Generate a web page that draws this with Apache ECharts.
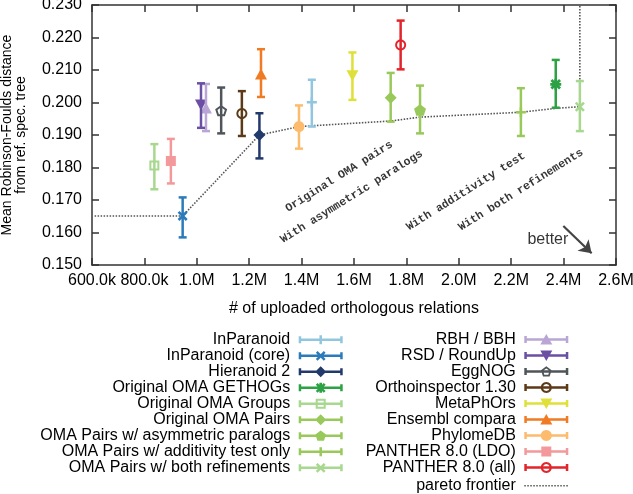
<!DOCTYPE html>
<html><head><meta charset="utf-8">
<script src="https://cdn.jsdelivr.net/npm/echarts@6/dist/echarts.min.js"></script>
<style>html,body{margin:0;padding:0;background:#fff}#c{width:633px;height:494px}</style>
</head><body><div id="c"></div>
<script>
// ---------- data ----------
const methods = ['InParanoid', 'InParanoid (core)', 'Hieranoid 2', 'Original OMA GETHOGs', 'Original OMA Groups',
  'Original OMA Pairs', 'OMA Pairs w/ asymmetric paralogs', 'OMA Pairs w/ additivity test only', 'OMA Pairs w/ both refinements',
  'RBH / BBH', 'RSD / RoundUp', 'EggNOG', 'Orthoinspector 1.30', 'MetaPhOrs', 'Ensembl compara', 'PhylomeDB',
  'PANTHER 8.0 (LDO)', 'PANTHER 8.0 (all)'];
const relations = [1439000, 946000, 1239000, 2370000, 838000, 1740000, 1852000, 2237000, 2462000,
  1035000, 1016000, 1093000, 1172000, 1594000, 1245000, 1390000, 901000, 1778000];
const meanRF = [0.2001, 0.1651, 0.1900, 0.2056, 0.1806, 0.2015, 0.1977, 0.1970, 0.1987,
  0.1983, 0.1992, 0.1975, 0.1966, 0.2082, 0.2088, 0.1926, 0.1820, 0.2177];
const lowerRF = [0.1926, 0.1585, 0.1828, 0.1984, 0.1733, 0.1941, 0.1905, 0.1897, 0.1912,
  0.1912, 0.1922, 0.1905, 0.1897, 0.2008, 0.2017, 0.1858, 0.1751, 0.2102];
const upperRF = [0.2070, 0.1708, 0.1967, 0.2131, 0.1872, 0.2091, 0.2052, 0.2044, 0.2066,
  0.2057, 0.2059, 0.2046, 0.2035, 0.2154, 0.2164, 0.1991, 0.1888, 0.2252];
const paretoX = [610000, 946000, 1239000, 1286000, 1368000, 1390000, 1740000, 1852000, 2237000, 2370000, 2462000, 2462000];
const paretoY = [0.1651, 0.1651, 0.1900, 0.1908, 0.1922, 0.1926, 0.1943, 0.1955, 0.1970, 0.1982, 0.1987, 0.230];
const xTickLabels = ['600.0k', '800.0k', '1.0M', '1.2M', '1.4M', '1.6M', '1.8M', '2.0M', '2.2M', '2.4M', '2.6M'];
const yTickLabels = ['0.150', '0.160', '0.170', '0.180', '0.190', '0.200', '0.210', '0.220', '0.230'];
const noteTexts = ['Original OMA pairs', 'With asymmetric paralogs', 'With additivity test', 'With both refinements'];
const noteX = [1543000, 1591000, 2027000, 2237000];
const noteY = [0.1772, 0.1710, 0.1726, 0.1731];
const betterPos = [2340000, 0.1577];
const arrowFrom = [2399000, 0.1620];
const arrowTo = [2507000, 0.1536];

// ---------- styles ----------
const colors = ['#92c5de', '#2b7bba', '#223a6b', '#2ca244', '#a8d890', '#99c95a', '#99c95a', '#99c95a', '#a8d890',
  '#b9a6d5', '#6a4fa3', '#4f5559', '#5c3a17', '#dfe03a', '#f07b22', '#fdbb6e', '#f4999b', '#e2242b'];
const markers = ['plus', 'x', 'diamond', 'star', 'openSquare', 'diamond', 'pentagon', 'plus', 'x',
  'triUp', 'triDown', 'openPentagon', 'openCircle', 'triDown', 'triUp', 'circle', 'square', 'openCircle'];
const FONT = "'Liberation Sans', Arial, Helvetica, sans-serif";

function f(n) { return (+n).toFixed(2); }
function poly(pts) { return 'M' + pts.map(p => f(p[0]) + ',' + f(p[1])).join('L') + 'Z'; }
function rectPts(x, y, w, h) { return [[x, y], [x + w, y], [x + w, y + h], [x, y + h]]; }
function rect(x, y, w, h, rev) { const p = rectPts(x, y, w, h); return poly(rev ? p.reverse() : p); }
function regPts(cx, cy, r, n, start) {
  const p = [];
  for (let i = 0; i < n; i++) { const a = (start + i * 360 / n) * Math.PI / 180; p.push([cx + r * Math.cos(a), cy + r * Math.sin(a)]); }
  return p;
}
function reg(cx, cy, r, n, start, rev) { const p = regPts(cx, cy, r, n, start); return poly(rev ? p.reverse() : p); }
function xShape(cx, cy, a, t) {
  const d = t / Math.SQRT2;
  return poly([[cx - a + d, cy - a - d], [cx + a + d, cy + a - d], [cx + a - d, cy + a + d], [cx - a - d, cy - a + d]]) +
    poly([[cx + a + d, cy - a + d], [cx - a + d, cy + a + d], [cx - a - d, cy + a - d], [cx + a - d, cy - a - d]]);
}
function plotSymbol(kind) {
  switch (kind) {
    case 'plus': return { symbol: 'path://' + rect(0, 3.75, 10, 2.5) + rect(3.75, 0, 2.5, 10), size: 10 };
    case 'x': return { symbol: 'path://' + xShape(5, 5, 4.1, 1.3), size: 10 };
    case 'star': return { symbol: 'path://' + xShape(5.5, 5.5, 4.3, 1.4) + rect(4.15, 0, 2.7, 11) + rect(0, 4.15, 11, 2.7), size: 11 };
    case 'openSquare': return { symbol: 'path://' + rect(0, 0, 10, 10) + rect(2, 2, 6, 6, true), size: 10 };
    case 'pentagon': return { symbol: 'path://' + reg(6, 6, 6, 5, -90), size: 12 };
    case 'openPentagon': return { symbol: 'path://' + reg(6, 6, 6, 5, -90) + reg(6, 6, 3.7, 5, -90, true), size: 12 };
    case 'openCircle': return { symbol: 'path://' + reg(6, 6, 6, 28, 0) + reg(6, 6, 3.9, 28, 0, true), size: 11 };
    case 'circle': return { symbol: 'circle', size: 11 };
    case 'square': return { symbol: 'rect', size: 10 };
    case 'diamond': return { symbol: 'diamond', size: 12 };
    case 'triUp': return { symbol: 'triangle', size: [12, 11] };
    case 'triDown': return { symbol: 'triangle', size: [12, 11], rotate: 180 };
  }
}
function legendIcon(kind) {
  let p = 'M-3.5,0M44,12' + rect(0, 2.5, 2.5, 7) + rect(41.5, 2.5, 2.5, 7) + rect(0, 4.75, 44, 2.5);
  switch (kind) {
    case 'plus': p += rect(20.75, 1.5, 2.5, 9); break;
    case 'x': p += xShape(22, 6, 4, 1.25); break;
    case 'star': p += xShape(22, 6, 4, 1.3) + rect(20.7, 1, 2.6, 10); break;
    case 'diamond': p += poly([[22, 0.5], [27.5, 6], [22, 11.5], [16.5, 6]]); break;
    case 'openSquare': p += rect(17, 1, 10, 10) + rect(19, 3, 6, 6, true); break;
    case 'pentagon': p += reg(22, 6.4, 5.6, 5, -90); break;
    case 'openPentagon': p += reg(22, 6.4, 5.6, 5, -90) + reg(22, 6.4, 3.4, 5, -90, true); break;
    case 'triUp': p += poly([[22, 0.5], [28, 11], [16, 11]]); break;
    case 'triDown': p += poly([[16, 1], [28, 1], [22, 11.5]]); break;
    case 'openCircle': p += reg(22, 6, 5.5, 28, 0) + reg(22, 6, 3.4, 28, 0, true); break;
    case 'circle': p += reg(22, 6, 5.5, 28, 0); break;
    case 'square': p += rect(17, 1, 10, 10); break;
  }
  return 'path://' + p;
}
function dotsIcon() {
  let p = 'M-3.5,0M44,12';
  for (let x = 0; x <= 42; x += 3) p += rect(x, 5.25, 1.5, 1.5);
  return 'path://' + p;
}

function errorBarRender(params, api) {
  const x = api.value(0);
  const lo = api.coord([x, api.value(2)]);
  const hi = api.coord([x, api.value(3)]);
  const c = api.visual('color');
  const s = { stroke: c, lineWidth: 2.5, fill: null };
  return { type: 'group', children: [
    { type: 'line', shape: { x1: lo[0], y1: lo[1], x2: hi[0], y2: hi[1] }, style: s },
    { type: 'line', shape: { x1: lo[0] - 4, y1: lo[1], x2: lo[0] + 4, y2: lo[1] }, style: s },
    { type: 'line', shape: { x1: hi[0] - 4, y1: hi[1], x2: hi[0] + 4, y2: hi[1] }, style: s }
  ] };
}

const series = [];
series.push({
  type: 'line', name: 'pareto frontier', z: 1, silent: true, symbol: 'none',
  data: paretoX.map((x, i) => [x, paretoY[i]]),
  lineStyle: { color: '#555', width: 1.6, type: [1.5, 1.5] },
  markLine: {
    silent: true, symbol: ['none', 'arrow'], symbolSize: 12,
    lineStyle: { color: '#444', width: 2.2, type: 'solid' }, label: { show: false },
    emphasis: { disabled: true },
    data: [[{ coord: arrowFrom }, { coord: arrowTo }]]
  }
});
methods.forEach((m, i) => {
  series.push({
    type: 'custom', name: m, z: 3, silent: true,
    data: [[relations[i], meanRF[i], lowerRF[i], upperRF[i]]],
    encode: { x: 0, y: 1 },
    itemStyle: { color: colors[i] },
    renderItem: errorBarRender
  });
  const ps = plotSymbol(markers[i]);
  series.push({
    type: 'scatter', name: m, z: 2, silent: true,
    data: [[relations[i], meanRF[i]]],
    symbol: ps.symbol, symbolSize: ps.size, symbolRotate: ps.rotate || 0, symbolKeepAspect: true,
    itemStyle: { color: colors[i], opacity: 1 }
  });
});
series.push({
  type: 'scatter', name: 'notes', z: 5, silent: true, symbol: 'circle', symbolSize: 1,
  itemStyle: { color: 'rgba(0,0,0,0)' },
  label: { show: true, position: 'inside', formatter: '{b}', rotate: 32, color: '#000',
    fontFamily: "'Liberation Mono', 'DejaVu Sans Mono', monospace", fontWeight: 'bold', fontSize: 11.5 },
  data: noteTexts.map((t, i) => ({ name: t, value: [noteX[i], noteY[i]] })).concat([
    { name: 'better', value: betterPos, label: { rotate: 0, fontFamily: FONT, fontWeight: 'normal', fontSize: 16 } }
  ])
});

const legendCommon = {
  type: 'plain', orient: 'vertical', align: 'right', padding: 0, itemWidth: 47.5, itemHeight: 12, itemGap: 0,
  selectedMode: false, textStyle: { fontFamily: FONT, fontSize: 16, color: '#000', lineHeight: 16 }
};
const axisLineStyle = { color: '#333', width: 1.5 };
const option = {
  animation: false,
  backgroundColor: '#fff',
  grid: { left: 92, right: 17, top: 5, bottom: 229, containLabel: false, outerBoundsMode: 'none' },
  xAxis: [
    { type: 'value', position: 'bottom', min: 600000, max: 2600000, interval: 200000,
      name: '# of uploaded orthologous relations', nameLocation: 'middle', nameGap: 36,
      nameTextStyle: { fontFamily: FONT, fontSize: 16, color: '#000' },
      axisLine: { show: true, onZero: false, lineStyle: axisLineStyle },
      axisTick: { show: true, inside: true, length: 7, lineStyle: axisLineStyle },
      splitLine: { show: false },
      axisLabel: { margin: 8, fontFamily: FONT, fontSize: 16, color: '#000', hideOverlap: false,
        formatter: v => xTickLabels[Math.round((v - 600000) / 200000)] } },
    { type: 'value', position: 'top', min: 600000, max: 2600000, interval: 200000,
      axisLine: { show: true, onZero: false, lineStyle: axisLineStyle },
      axisTick: { show: true, inside: true, length: 7, lineStyle: axisLineStyle },
      splitLine: { show: false }, axisLabel: { show: false } }
  ],
  yAxis: [
    { type: 'value', position: 'left', min: 0.15, max: 0.23, interval: 0.01,
      name: 'Mean Robinson-Foulds distance\nfrom ref. spec. tree', nameLocation: 'middle', nameGap: 64,
      nameTextStyle: { fontFamily: FONT, fontSize: 14, color: '#000', lineHeight: 14 },
      axisLine: { show: true, onZero: false, lineStyle: axisLineStyle },
      axisTick: { show: true, inside: true, length: 7, lineStyle: axisLineStyle },
      splitLine: { show: false },
      axisLabel: { margin: 10, fontFamily: FONT, fontSize: 16, color: '#000',
        formatter: v => yTickLabels[Math.round((v - 0.15) / 0.01)] } },
    { type: 'value', position: 'right', min: 0.15, max: 0.23, interval: 0.01,
      axisLine: { show: true, onZero: false, lineStyle: axisLineStyle },
      axisTick: { show: true, inside: true, length: 7, lineStyle: axisLineStyle },
      splitLine: { show: false }, axisLabel: { show: false } }
  ],
  legend: [
    Object.assign({}, legendCommon, { right: 290.3, top: 331.8,
      data: methods.slice(0, 9).map((m, i) => ({ name: m, icon: legendIcon(markers[i]) })) }),
    Object.assign({}, legendCommon, { right: 64.7, top: 331.5,
      data: methods.slice(9).map((m, i) => ({ name: m, icon: legendIcon(markers[i + 9]) })) }),
    Object.assign({}, legendCommon, { right: 64.7, top: 477.8,
      data: [{ name: 'pareto frontier', icon: dotsIcon(), itemStyle: { color: '#555' } }] })
  ],
  series: series
};
const chart = echarts.init(document.getElementById('c'), null, { renderer: 'canvas' });
chart.setOption(option);
</script>
</body></html>
